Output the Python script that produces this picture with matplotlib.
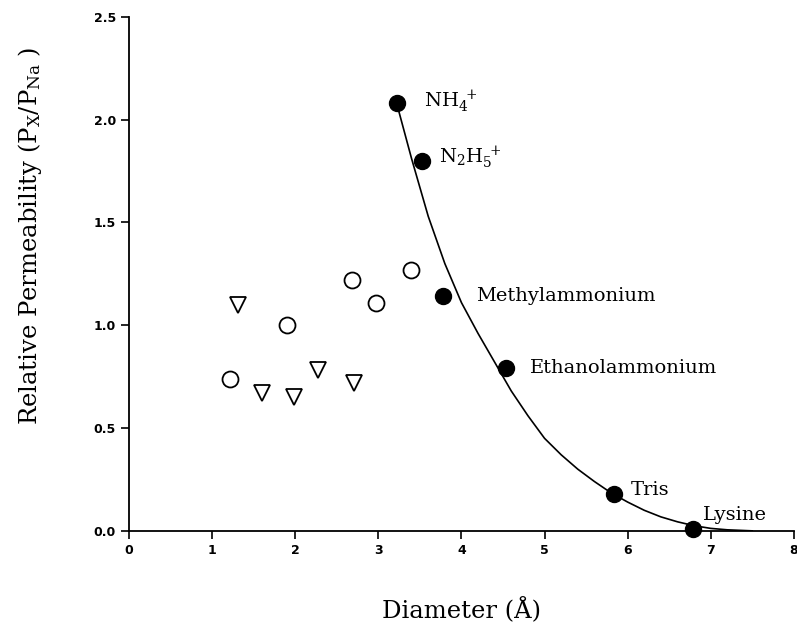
import matplotlib as mpl
import matplotlib.pyplot as plt

mpl.rc('font', family='DejaVu Serif')
mpl.rc('mathtext', fontset='dejavuserif')
mpl.rc('axes.spines', top=False, right=False)

# filled circles: organic cations
ion_names = [r'NH$_4^{\ +}$', r'N$_2$H$_5^{\ +}$', 'Methylammonium',
             'Ethanolammonium', 'Tris', 'Lysine']
ion_diam = [3.22, 3.53, 3.78, 4.54, 5.84, 6.79]
ion_perm = [2.08, 1.80, 1.14, 0.79, 0.18, 0.01]
label_offsets = [(20, 1), (12, 2), (24, 0), (17, 0), (12, 3), (7, 10)]

# open circles
circ_diam = [1.21, 1.90, 2.68, 2.97, 3.39]
circ_perm = [0.74, 1.00, 1.22, 1.11, 1.27]

# open triangles
tri_diam = [1.31, 1.60, 1.98, 2.27, 2.71]
tri_perm = [1.10, 0.67, 0.65, 0.78, 0.72]

# fitted curve
fit_x = [3.22, 3.40, 3.60, 3.80, 4.00, 4.20, 4.40, 4.60, 4.80, 5.00, 5.20,
         5.40, 5.60, 5.80, 6.00, 6.20, 6.40, 6.60, 6.80, 7.00, 7.20, 7.50]
fit_y = [2.08, 1.81, 1.53, 1.30, 1.11, 0.96, 0.82, 0.68, 0.56, 0.45, 0.37,
         0.30, 0.24, 0.185, 0.14, 0.10, 0.068, 0.044, 0.025, 0.012, 0.005, 0.0]

fig = plt.figure(figsize=(7.97, 6.26), dpi=100)
ax = fig.add_axes([0.162, 0.152, 0.834, 0.821])

ax.plot(fit_x, fit_y, color='black', lw=1.2, zorder=2)
ax.plot(ion_diam, ion_perm, 'o', color='black', ms=11.5, zorder=3, clip_on=False)
ax.plot(circ_diam, circ_perm, 'o', mfc='white', mec='black', mew=1.3, ms=11.5)
ax.plot(tri_diam, tri_perm, 'v', mfc='white', mec='black', mew=1.3, ms=11)

for name, x, y, off in zip(ion_names, ion_diam, ion_perm, label_offsets):
    ax.annotate(name, (x, y), xytext=off, textcoords='offset points',
                fontsize=14, va='center', ha='left')

ax.set_xlim(0, 8)
ax.set_ylim(0, 2.5)
ax.set_xticks(range(0, 9))
ax.set_yticks([0.0, 0.5, 1.0, 1.5, 2.0, 2.5])
ax.set_yticklabels(['0.0', '0.5', '1.0', '1.5', '2.0', '2.5'])
ax.tick_params(direction='out', length=6, width=1.2, labelsize=9)
for lab in ax.get_xticklabels() + ax.get_yticklabels():
    lab.set_family('DejaVu Sans')
    lab.set_fontweight('bold')
for s in ['left', 'bottom']:
    ax.spines[s].set_linewidth(1.3)

ax.set_xlabel('Diameter (Å)', fontsize=17.5)
ax.xaxis.set_label_coords(0.5, -0.13)
ax.set_ylabel(r'Relative Permeability (P$_\mathrm{X}$/P$_\mathrm{Na}$ )', fontsize=17.5)
ax.yaxis.set_label_coords(-0.128, 0.575)

plt.savefig('out.png', dpi=100)
